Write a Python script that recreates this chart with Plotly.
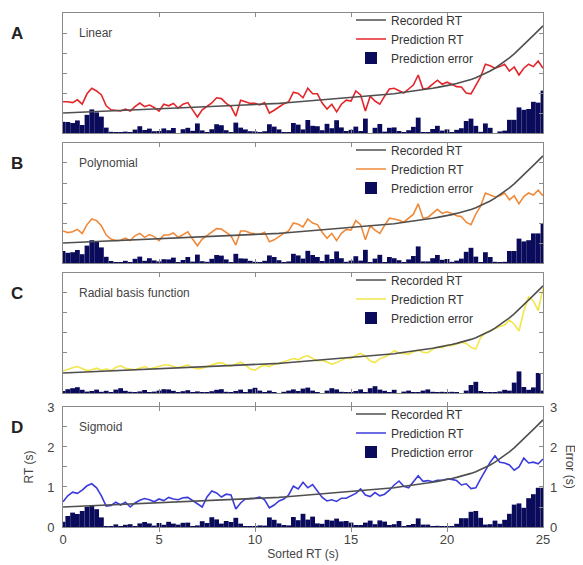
import plotly.graph_objects as go

# ---------------- data ----------------
sorted_rt = [i * 0.25 for i in range(101)]  # sample positions along the sorted-RT axis (s)

recorded_rt = [0.50, 0.505, 0.51, 0.515, 0.52, 0.525, 0.53, 0.535, 0.54, 0.545, 0.55, 0.555,
               0.56, 0.565, 0.57, 0.575, 0.58, 0.585, 0.59, 0.595, 0.60, 0.605, 0.61, 0.615,
               0.62, 0.625, 0.63, 0.635, 0.64, 0.645, 0.65, 0.655, 0.66, 0.665, 0.67, 0.675,
               0.68, 0.685, 0.69, 0.695, 0.70, 0.71, 0.715, 0.72, 0.73, 0.74, 0.75, 0.76,
               0.77, 0.78, 0.79, 0.795, 0.80, 0.81, 0.82, 0.83, 0.84, 0.85, 0.86, 0.87,
               0.88, 0.89, 0.90, 0.91, 0.92, 0.93, 0.945, 0.955, 0.97, 0.98, 1.0, 1.015,
               1.03, 1.045, 1.065, 1.08, 1.10, 1.12, 1.14, 1.16, 1.18, 1.21, 1.24, 1.27,
               1.30, 1.34, 1.38, 1.43, 1.48, 1.55, 1.62, 1.70, 1.78, 1.88, 1.98, 2.09,
               2.20, 2.32, 2.44, 2.56, 2.68]

pred_linear = [0.78, 0.78, 0.76, 0.83, 0.72, 0.98, 1.12, 1.05, 0.95, 0.68,
               0.58, 0.57, 0.55, 0.60, 0.55, 0.66, 0.75, 0.66, 0.70, 0.64,
               0.55, 0.72, 0.68, 0.74, 0.62, 0.72, 0.76, 0.58, 0.40, 0.58,
               0.66, 0.75, 0.88, 0.86, 0.74, 0.66, 0.42, 0.82, 0.78, 0.74,
               0.74, 0.70, 0.76, 0.50, 0.57, 0.65, 0.73, 0.78, 1.02, 0.99,
               0.88, 1.12, 0.98, 0.98, 0.75, 0.60, 0.72, 0.53, 0.72, 0.82,
               0.80, 1.05, 0.95, 0.55, 0.92, 0.80, 0.72, 0.92, 1.10, 1.12,
               1.05, 1.00, 1.10, 1.20, 1.45, 1.10, 1.12, 1.22, 1.32, 1.22,
               1.27, 1.22, 1.16, 1.15, 1.00, 0.98, 1.20, 1.40, 1.72, 1.68,
               1.62, 1.66, 1.72, 1.55, 1.65, 1.45, 1.62, 1.72, 1.66, 1.80, 1.62]

pred_poly = [0.80, 0.76, 0.78, 0.84, 0.74, 0.96, 1.10, 1.06, 0.93, 0.70,
             0.60, 0.56, 0.57, 0.62, 0.56, 0.68, 0.74, 0.64, 0.71, 0.66,
             0.56, 0.70, 0.70, 0.75, 0.64, 0.70, 0.78, 0.60, 0.43, 0.60,
             0.68, 0.76, 0.86, 0.85, 0.76, 0.68, 0.45, 0.80, 0.80, 0.75,
             0.73, 0.72, 0.77, 0.53, 0.58, 0.67, 0.74, 0.80, 1.00, 0.97,
             0.90, 1.10, 1.00, 0.96, 0.77, 0.62, 0.74, 0.56, 0.74, 0.84,
             0.82, 1.06, 0.96, 0.58, 0.93, 0.82, 0.74, 0.94, 1.12, 1.10,
             1.07, 1.02, 1.12, 1.22, 1.48, 1.12, 1.14, 1.24, 1.34, 1.24,
             1.28, 1.24, 1.18, 1.16, 1.02, 0.96, 1.22, 1.42, 1.75, 1.70,
             1.65, 1.68, 1.75, 1.58, 1.68, 1.48, 1.66, 1.75, 1.70, 1.82, 1.68]

pred_rbf = [0.55, 0.60, 0.63, 0.66, 0.60, 0.56, 0.58, 0.62, 0.57, 0.60,
            0.56, 0.64, 0.68, 0.62, 0.60, 0.58, 0.62, 0.66, 0.60, 0.63,
            0.66, 0.70, 0.70, 0.67, 0.63, 0.67, 0.70, 0.64, 0.60, 0.62,
            0.66, 0.70, 0.74, 0.76, 0.70, 0.67, 0.73, 0.77, 0.70, 0.60,
            0.57, 0.65, 0.70, 0.66, 0.72, 0.74, 0.78, 0.82, 0.86, 0.83,
            0.90, 0.93, 0.86, 0.80, 0.82, 0.77, 0.72, 0.76, 0.83, 0.88,
            0.86, 0.94, 0.99, 0.92, 0.80, 0.76, 0.86, 0.90, 0.96, 1.06,
            1.00, 0.98, 0.97, 1.03, 1.07, 1.02, 1.01, 1.09, 1.15, 1.13,
            1.19, 1.18, 1.23, 1.27, 1.24, 1.14, 1.10, 1.38, 1.50, 1.56,
            1.60, 1.66, 1.70, 1.82, 1.72, 1.55, 2.05, 2.40, 2.30, 2.06, 2.62]

pred_sigmoid = [0.63, 0.78, 0.87, 0.84, 0.92, 1.03, 1.08, 0.98, 0.78, 0.52,
                0.54, 0.62, 0.55, 0.62, 0.50, 0.60, 0.67, 0.71, 0.68, 0.63,
                0.70, 0.66, 0.74, 0.70, 0.68, 0.73, 0.74, 0.66, 0.60, 0.50,
                0.75, 0.90, 0.85, 0.75, 0.82, 0.80, 0.45, 0.60, 0.70, 0.71,
                0.72, 0.75, 0.68, 0.48, 0.55, 0.65, 0.70, 0.80, 1.02, 0.95,
                1.12, 0.98, 1.06, 0.90, 0.74, 0.65, 0.68, 0.64, 0.72, 0.72,
                0.77, 0.84, 0.95, 0.80, 0.76, 0.86, 0.78, 0.82, 0.92, 1.05,
                1.15, 1.02, 0.98, 1.12, 1.28, 1.14, 1.16, 1.13, 1.17, 1.17,
                1.20, 1.19, 1.16, 1.05, 1.08, 0.96, 0.98, 1.20, 1.42, 1.62,
                1.78, 1.62, 1.60, 1.55, 1.42, 1.50, 1.72, 1.60, 1.62, 1.58, 1.70]

panel_letters = ["A", "B", "C", "D"]
panel_names = ["Linear", "Polynomial", "Radial basis function", "Sigmoid"]
predictions = [pred_linear, pred_poly, pred_rbf, pred_sigmoid]
pred_colors = ["#e3262b", "#f08a3a", "#f2e64a", "#3b3bdc"]
x_ticks = [0, 5, 10, 15, 20, 25]
y_ticks = [0, 0.5, 1, 1.5, 2, 2.5, 3]
y_ticktext = ["0", "", "1", "", "2", "", "3"]

# ---------------- figure ----------------
FONT = "Liberation Sans, Arial, sans-serif"
REC_COLOR = "#4f4f4f"
ERR_COLOR = "#0b0b5c"
AXIS_COLOR = "#8a8a8a"
LABEL_COLOR = "#444444"

# the page body has an 8px margin, so the figure is 8px smaller than the window
domains = [[0.7665, 1.0], [0.5136, 0.7471], [0.2607, 0.4942], [0.0, 0.2335]]
legend_tops = [1.0146, 0.7617, 0.5088, 0.2481]

fig = go.Figure()
layout = dict(
    width=575, height=557,
    margin=dict(l=55, r=40, t=5, b=38, autoexpand=False),
    paper_bgcolor="white", plot_bgcolor="white",
    font=dict(family=FONT, size=12, color="#333333"),
    showlegend=True,
    annotations=[],
)

for k in range(4):
    n = k + 1
    xa = "x" if n == 1 else f"x{n}"
    ya = "y" if n == 1 else f"y{n}"
    leg = "legend" if n == 1 else f"legend{n}"
    err = [abs(p - r) for p, r in zip(predictions[k], recorded_rt)]

    fig.add_trace(go.Bar(x=sorted_rt, y=err, width=0.25, name="Prediction error",
                         marker=dict(color=ERR_COLOR, line=dict(width=0)),
                         xaxis=xa, yaxis=ya, legend=leg, legendrank=3))
    fig.add_trace(go.Scatter(x=sorted_rt, y=predictions[k], mode="lines", name="Prediction RT",
                             line=dict(color=pred_colors[k], width=1.6),
                             xaxis=xa, yaxis=ya, legend=leg, legendrank=2))
    fig.add_trace(go.Scatter(x=sorted_rt, y=recorded_rt, mode="lines", name="Recorded RT",
                             line=dict(color=REC_COLOR, width=1.6),
                             xaxis=xa, yaxis=ya, legend=leg, legendrank=1))

    is_last = (n == 4)
    layout["xaxis" if n == 1 else f"xaxis{n}"] = dict(
        domain=[0, 1], anchor=ya, range=[0, 25], tickvals=x_ticks,
        ticks="inside", ticklen=4, tickcolor=AXIS_COLOR, mirror="allticks",
        showline=True, linecolor=AXIS_COLOR, linewidth=1, automargin=False,
        showgrid=False, zeroline=False, showticklabels=is_last,
        tickfont=dict(size=13, color=LABEL_COLOR),
        title=dict(text="Sorted RT (s)" if is_last else "", font=dict(size=12, color=LABEL_COLOR), standoff=4),
    )
    layout["yaxis" if n == 1 else f"yaxis{n}"] = dict(
        domain=domains[k], anchor=xa, range=[0, 3], tickvals=y_ticks,
        ticktext=y_ticktext, ticks="inside", ticklen=4, tickcolor=AXIS_COLOR,
        mirror="allticks", showline=True, linecolor=AXIS_COLOR, linewidth=1,
        showgrid=False, zeroline=False, showticklabels=is_last, automargin=False,
        ticklabelstandoff=5,
        tickfont=dict(size=13, color=LABEL_COLOR),
        title=dict(text="RT (s)" if is_last else "", font=dict(size=12, color=LABEL_COLOR), standoff=10),
    )
    layout["legend" if n == 1 else f"legend{n}"] = dict(
        x=0.60, xanchor="left", y=legend_tops[k], yanchor="top",
        bgcolor="rgba(0,0,0,0)", borderwidth=0,
        font=dict(size=12, color="#333333", family=FONT),
        itemwidth=30, tracegroupgap=0,
    )
    # panel letter
    layout["annotations"].append(dict(
        text=f"<b>{panel_letters[k]}</b>", xref="paper", yref=f"{ya} domain",
        x=-0.095, y=0.83, xanchor="center", yanchor="middle", showarrow=False,
        font=dict(size=17, color="#222222", family=FONT)))
    # panel name
    layout["annotations"].append(dict(
        text=panel_names[k], xref=f"{xa} domain", yref=f"{ya} domain",
        x=0.03, y=0.835, xanchor="left", yanchor="middle", showarrow=False,
        font=dict(size=12, color=LABEL_COLOR, family=FONT)))

# right-hand error axis for panel D
layout["yaxis5"] = dict(
    overlaying="y4", side="right", anchor="x4", range=[0, 3],
    tickvals=y_ticks, ticktext=y_ticktext, ticks="", showline=False,
    showgrid=False, zeroline=False, automargin=False, ticklabelstandoff=6,
    tickfont=dict(size=13, color=LABEL_COLOR),
)
fig.add_trace(go.Scatter(x=[], y=[], xaxis="x4", yaxis="y5", showlegend=False))
layout["annotations"].append(dict(
    text="Error (s)", xref="paper", yref="y4 domain", x=1.057, y=0.5,
    xanchor="center", yanchor="middle", textangle=90, showarrow=False,
    font=dict(size=12, color=LABEL_COLOR, family=FONT)))

fig.update_layout(**layout)
fig.write_html("out.html")
